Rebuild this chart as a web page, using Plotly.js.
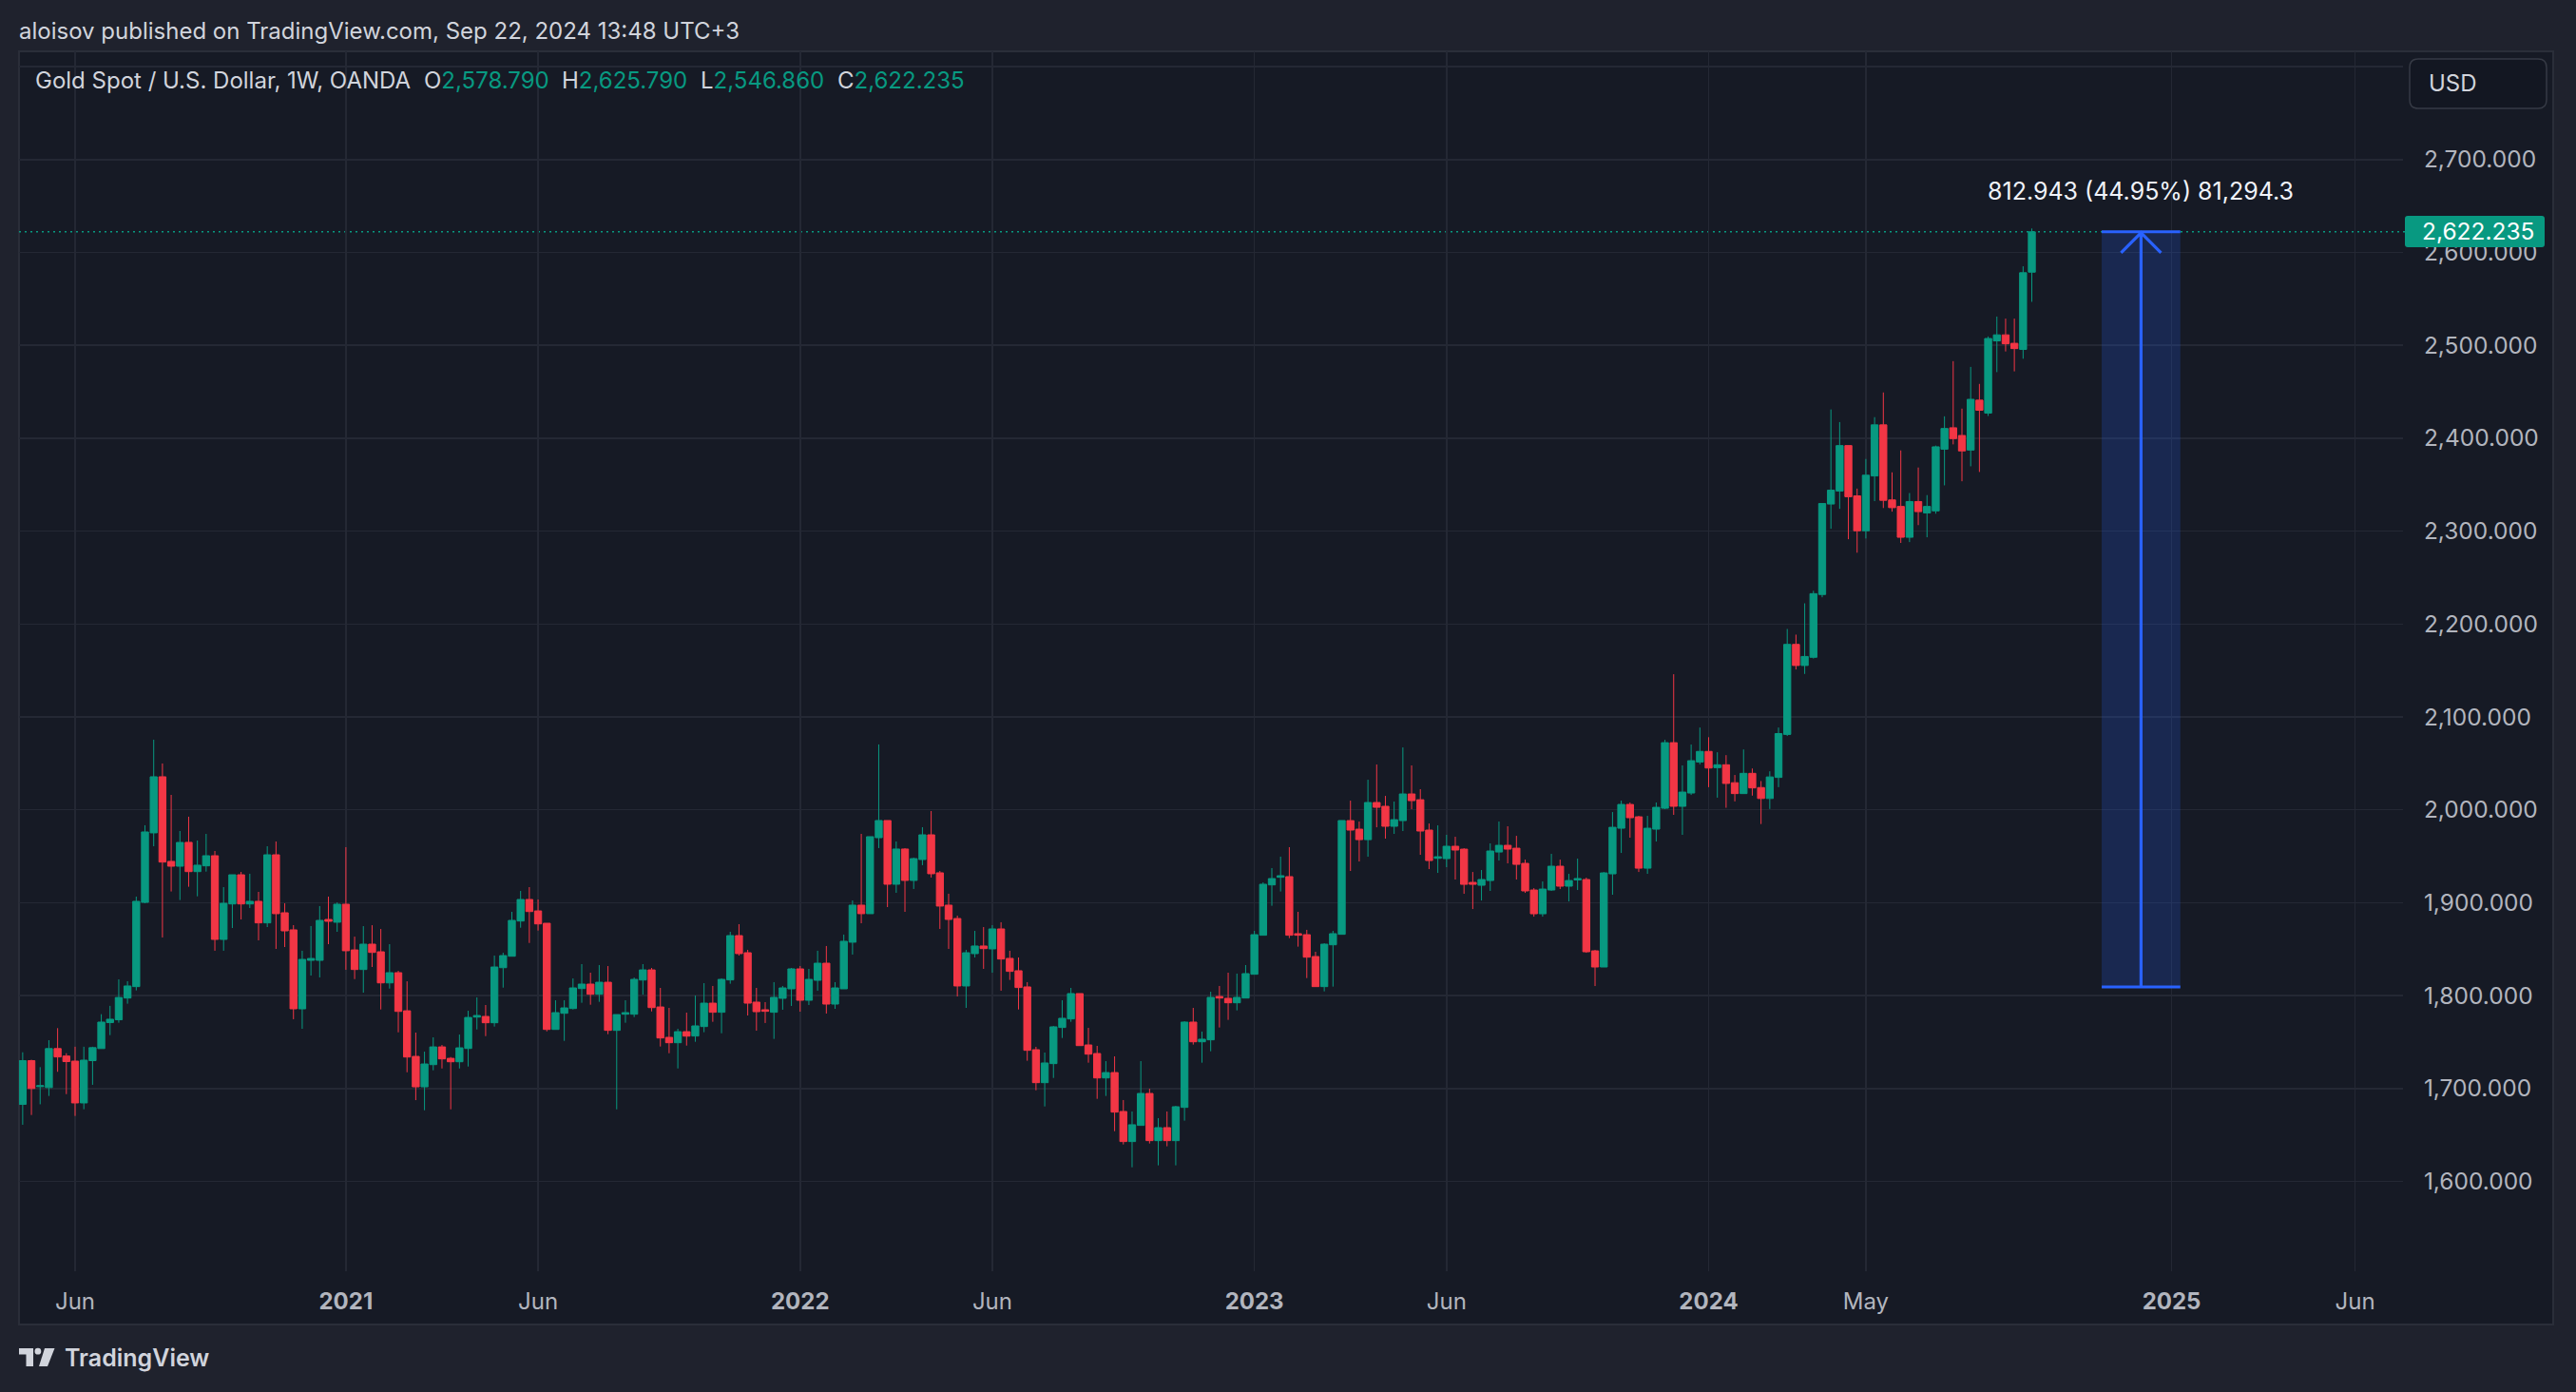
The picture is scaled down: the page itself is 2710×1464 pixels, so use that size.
<!DOCTYPE html>
<html>
<head>
<meta charset="utf-8">
<script src="https://cdn.plot.ly/plotly-3.0.1.min.js"></script>
<style>
html,body{margin:0;padding:0;background:#1F222D;}
#chart{width:2710px;height:1464px;}
</style>
</head>
<body>
<div id="chart"></div>
<script>
// ---------- DATA (weekly OANDA XAUUSD, first bar = week of 2020-04-20) ----------
const firstWeek = '2020-04-20';
const opens = [
1683,1730,1702,1701,1743,1735,1729.5,1684.5,1730,1743,
1771,1774,1797.4,1809.7,1900.4,1975.2,2035.6,1944.5,1939.3,1965,
1933.5,1939.7,1950.6,1860.5,1898.7,1930.1,1898.7,1901.5,1878.3,1951.6,
1889.2,1870.8,1785.8,1838,1838,1882,1879,1898.4,1849.2,1828.1,
1855.4,1847.2,1813.7,1824.7,1783.7,1734.6,1701.8,1725.7,1744.8,1732.5,
1728.8,1743.1,1776.9,1777.6,1770.8,1830.1,1842.4,1880.3,1903.5,1891.2,
1877.9,1763.6,1781,1786.1,1807.6,1812.4,1801.5,1814.4,1762.6,1780,
1780,1816.8,1827.7,1787.8,1755.1,1749.3,1761.2,1756.5,1766.7,1791.9,
1782.1,1816.9,1864.6,1846.2,1793,1784.8,1782.1,1797.1,1807.3,1828.8,
1795,1816.5,1834.9,1790.9,1807.3,1857.5,1897.4,1888.2,1970,1988.5,
1919.9,1957.8,1924,1946.5,1973.1,1932.2,1897.4,1883,1810.4,1845.2,
1853.4,1850.3,1871.8,1840.1,1826.8,1809.4,1741.8,1706.3,1726.8,1765.7,
1774.9,1802.2,1746.9,1737.7,1711.4,1717.2,1675.3,1642.9,1660.3,1694.7,
1643.9,1657.9,1643.9,1679.7,1771.5,1750.3,1752.4,1799.1,1797.1,1792.3,
1797.4,1823,1865,1919.2,1927.4,1928.1,1866.7,1865.6,1842.1,1809.7,
1854.7,1866,1988.4,1979.2,1967.9,2007.9,2003.8,1982.3,1988.4,2017.1,
2010.9,1978.2,1947.8,1947.5,1960.8,1957.7,1921.9,1918.8,1923.9,1954.6,
1961.8,1958.7,1942.4,1913.7,1888.1,1913.7,1939.3,1917.8,1924.6,1925,
1848.2,1830.8,1931.1,1980.2,2005.8,1992.5,1937.2,1979.2,2001.7,2072.3,
2003.8,2018.1,2051.5,2062.9,2045.4,2048.5,2029.2,2017.5,2039.3,2024.0,
2012.2,2034.9,2081.2,2178.1,2155.4,2164.2,2231.8,2329.2,2343.2,2392.1,
2338.0,2300.4,2359.4,2414.4,2333.6,2326.6,2293.4,2331.9,2319.6,2321.8,
2388.2,2411.3,2403.0,2387.3,2441.0,2427.1,2504.8,2511.3,2502.2,2495.6,
2578.79
];
const highs = [
1739,1731,1723,1752,1765,1738,1745,1745,1745,1780,
1789,1817.5,1815.5,1906.6,1983.4,2075.5,2049.9,2016.1,1977.2,1992.6,
1967,1974.1,1955.7,1916.8,1930.1,1933.2,1931.2,1911.7,1960.8,1965.9,
1899.4,1875.9,1848.3,1874.9,1896.4,1906.6,1900.4,1959.8,1863.5,1874.8,
1875.8,1871.7,1855.4,1826.7,1815.4,1760.2,1739.7,1755.1,1746.9,1733.9,
1758.1,1783.7,1798.1,1789.9,1843.1,1846.2,1890.2,1912.7,1916.8,1903.5,
1877.9,1795,1795,1818.5,1833.9,1824.7,1832.9,1831.8,1779.6,1795,
1819.5,1833.9,1829.8,1808.3,1786.8,1764.3,1781.7,1800.1,1813.4,1810.4,
1818.6,1868.7,1876.9,1849.3,1808.3,1793,1814.5,1810.4,1829.8,1831.9,
1828.8,1848.3,1853.4,1814.5,1865.7,1902.5,1974.1,1971.1,2070.4,1988.5,
1965.9,1958.8,1948.6,1981.3,1998.7,1934.2,1909.7,1886.1,1849.3,1869.7,
1873.8,1875.9,1879,1848.3,1841.1,1814.5,1744.9,1738.7,1767.4,1795,
1808.3,1802.2,1765.3,1745.9,1729.5,1734.6,1687.6,1675.3,1729.5,1699.8,
1668.1,1675.3,1681.4,1772.5,1786.8,1761.3,1804.2,1810.4,1824.7,1823.7,
1832.9,1869.7,1921.9,1937.3,1949.6,1959.8,1890.2,1870.8,1847.2,1856.4,
1869.7,1988.5,2009.9,1987.4,2032.4,2048.8,2015,2008.9,2067.2,2047.8,
2022.2,1985.3,1983.3,1973.1,1971,1958.7,1933.1,1935.2,1963.9,1987.4,
1982.3,1972,1946.4,1915.7,1922.9,1952.6,1946.4,1931.1,1947.5,1927,
1849.2,1933.1,1997.6,2009.9,2007.9,1993.5,1993.5,2007.9,2075.4,2146,
2047.8,2070.3,2088.6,2078.2,2062.0,2058.9,2037.5,2065.0,2044.5,2031.0,
2041.5,2088.6,2194.7,2188.6,2222.3,2235.8,2329.7,2431.0,2417.4,2392.1,
2345.8,2377.7,2422.7,2449.3,2363.3,2386.9,2341.0,2368.5,2338.8,2392.1,
2423.6,2483.0,2431.9,2476.8,2458.5,2509.6,2531.0,2528.8,2528.8,2585.1,
2625.79
];
const lows = [
1661,1671.5,1683,1692,1718,1694,1670.5,1677.7,1704,1743,
1757.5,1770.8,1791.3,1805.6,1899.4,1960.8,1862.6,1912.1,1902.9,1917.2,
1906.9,1933.5,1848.3,1848.3,1872.8,1882,1894.3,1859.5,1873.8,1850.3,
1852.3,1774.6,1764.3,1821.6,1819.6,1855.4,1868.7,1827.8,1817.8,1803.2,
1830.8,1785.1,1807.6,1760.5,1717.5,1687.5,1676.6,1719.6,1721.6,1677.6,
1721.6,1723.7,1763.6,1756.4,1766.7,1808.6,1842.4,1873.1,1856.7,1870.0,
1761.5,1763.6,1751.3,1785.1,1792.3,1790.2,1793.3,1758.5,1677.6,1770.8,
1776.9,1801.1,1783.0,1745.2,1738.0,1721.6,1746.2,1750.3,1760.6,1771.8,
1759.5,1812.8,1843.1,1778.6,1762.3,1770.5,1753.4,1784.8,1788.9,1782.7,
1789.9,1805.3,1780.7,1785.8,1807.3,1844.2,1877.9,1888.2,1958.8,1895.3,
1910.7,1890.2,1914.8,1940.4,1927.1,1871.8,1850.3,1799.1,1786.8,1841.1,
1828.8,1824.7,1805.3,1816.9,1785.1,1729.9,1698.1,1680.7,1711.4,1754.4,
1771.8,1746.2,1727.8,1688.9,1692,1654.1,1639.8,1615.2,1660.3,1640.8,
1617.3,1637.8,1617.3,1665.4,1747.3,1727.8,1740.1,1765.7,1773.9,1784.1,
1797.4,1823,1865,1896.7,1912.1,1861.9,1852.7,1818.9,1809.7,1804.6,
1809.7,1866,1934.2,1944.4,1949.5,1981.2,1969,1974.1,1977.2,2000.7,
1951.6,1936.2,1932.1,1938.3,1925,1909.6,1893.2,1902.4,1912.7,1945.4,
1942.4,1925,1910.6,1885.0,1885,1912.7,1914.7,1901.4,1913.7,1846.1,
1810.3,1830.8,1908.6,1953.6,1970.0,1933.1,1931.1,1965.9,2000.7,1994.6,
1973.1,2016,2049,2024.4,2013.1,2002.2,2009.1,2017.5,2015.3,1984.7,
2000.9,2024.4,2079.5,2151.1,2146.3,2162.9,2228.8,2302.6,2324.0,2291.3,
2276.8,2292.1,2332.3,2324.9,2321.0,2287.3,2288.2,2306.5,2293.4,2318.8,
2349.3,2393.4,2353.7,2369.8,2363.7,2424.0,2471.2,2493.4,2472.0,2485.6,
2546.86
];
const closes = [
1730,1700,1703,1743,1734,1729,1684.5,1730.5,1744,1771.5,
1774.6,1798,1810.4,1901.5,1976.2,2035.6,1943.8,1939.3,1964.9,1933.5,
1940.4,1950.6,1860.5,1899.4,1930.1,1898.7,1901.5,1878.3,1951.6,1888.2,
1869.7,1785.8,1839,1840,1881,1880,1898.4,1848.3,1828.1,1855.4,
1846.5,1813.7,1824.7,1783.0,1733.9,1701.8,1726.4,1744.8,1731.9,1728.8,
1743.8,1776.5,1778.6,1770.8,1830.8,1843.1,1881,1903.5,1890.5,1877.2,
1763.6,1781.7,1786.8,1808.3,1812.4,1801.5,1814.4,1762.6,1779.6,1781.7,
1817.5,1827.7,1787.1,1754.4,1749.3,1761.2,1756.4,1767.4,1791.9,1782.1,
1817.5,1864.6,1845.2,1791.9,1782.7,1783.1,1798.1,1808.3,1828.8,1795,
1817.5,1834.9,1790.9,1808.3,1858.5,1897.4,1888.2,1971.1,1988.5,1919.9,
1957.8,1924,1947.5,1973.1,1931.2,1896.4,1882,1810.4,1846.2,1853.4,
1850.6,1871.8,1839.4,1826.1,1808.7,1741.1,1706.3,1727.5,1766.4,1775.6,
1802.2,1746.2,1737,1711.4,1717.2,1674.6,1642.9,1661,1694.7,1643.9,
1657.9,1643.9,1680.4,1771.5,1750.3,1753.1,1798.1,1797.4,1792.3,1798.1,
1823.7,1865.6,1919.9,1926,1929.1,1865,1865,1841.4,1809.7,1855.4,
1866.7,1988.5,1978.2,1967.9,2007.9,2002.7,1982.3,1989.4,2017.1,2009.9,
1977.2,1945.4,1949.5,1960.8,1956.7,1919.8,1919.8,1925,1955.7,1961.8,
1957.7,1941.3,1912.7,1888.1,1914.7,1939.3,1917.8,1923.9,1926,1847.2,
1830.8,1932.1,1981.2,2005.8,1991.5,1937.2,1980.2,2002.7,2072.3,2003.8,
2019.1,2052.9,2062.9,2045.0,2048.5,2028.4,2017.5,2039.3,2023.6,2012.2,
2035.4,2082.1,2178.1,2155.4,2165.1,2232.7,2329.7,2344.1,2392.1,2337.1,
2300.4,2360.2,2414.4,2333.2,2325.3,2293.4,2331.9,2321.0,2326.6,2390.8,
2410.5,2399.6,2386.4,2441.9,2430.1,2507.4,2511.3,2501.7,2496.5,2578.2,
2622.235
];
const xTickDates  = ['2020-06-01','2021-01-04','2021-06-07','2022-01-03','2022-06-06','2023-01-02','2023-06-05','2024-01-01','2024-05-06','2025-01-06','2025-06-02'];
const xTickLabels = ['Jun','2021','Jun','2022','Jun','2023','Jun','2024','May','2025','Jun'];
const yTickValues = [1600,1700,1800,1900,2000,2100,2200,2300,2400,2500,2600,2700,2800];
const yHiddenLabels = [2800];
const symbolTitle = 'Gold Spot / U.S. Dollar, 1W, OANDA';
const publishLine = 'aloisov published on TradingView.com, Sep 22, 2024 13:48 UTC+3';
const currency = 'USD';
// price-range measurement drawing
const measureFromWeek = 238, measureToWeek = 247;
const measureChange = 812.943, measurePercent = 44.95, measureTicks = '81,294.3';

// ---------- STYLE ----------
const UP = '#089981', DOWN = '#F23645';
const CHART_BG = '#161A25', OUTER_BG = '#1F222D', GRID = '#242834', FRAME = '#2A2E39';
const TXT = '#D1D4DC', AXTXT = '#B2B5BE', BLUE = '#2962FF';
const FONT = 'Inter, Roboto, "Open Sans", sans-serif';
const W = 2710, H = 1464;
const ML = 20, MR = 182, MT = 54, MB = 127;
const PW = W - ML - MR, PH = H - MT - MB;

function weekDate(k){
  const t = Date.parse(firstWeek + 'T00:00:00Z') + k * 7 * 86400000;
  return new Date(t).toISOString().slice(0,19).replace('T',' ');
}
function fmt(v, d){
  const s = v.toFixed(d).split('.');
  s[0] = s[0].replace(/\B(?=(\d{3})+(?!\d))/g, ',');
  return s.join('.');
}
const dates = closes.map((_, i) => weekDate(i));
const last = closes.length - 1;
const lastClose = closes[last];

// paper helpers (pixel positions on the page)
const PX = x => (x - ML) / PW;
const PY = y => (MT + PH - y) / PH;
const base = {xref:'paper', yref:'paper', xsizemode:'pixel', ysizemode:'pixel', xanchor:0, yanchor:1};
const P = (x, y) => (x - ML) + ',' + (MT - y);
function pxRect(x0, y0, x1, y1, o){
  return Object.assign({}, base, {type:'rect', x0:x0-ML, x1:x1-ML, y0:MT-y0, y1:MT-y1}, o);
}
function pxPath(d, o){ return Object.assign({}, base, {type:'path', path:d}, o); }
function roundRect(x0, y0, x1, y1, r){
  return 'M' + P(x0+r,y0) + ' L' + P(x1-r,y0) + ' Q' + P(x1,y0) + ' ' + P(x1,y0+r) +
         ' L' + P(x1,y1-r) + ' Q' + P(x1,y1) + ' ' + P(x1-r,y1) +
         ' L' + P(x0+r,y1) + ' Q' + P(x0,y1) + ' ' + P(x0,y1-r) +
         ' L' + P(x0,y0+r) + ' Q' + P(x0,y0) + ' ' + P(x0+r,y0) + ' Z';
}

const trace = {
  type:'candlestick', x:dates, open:opens, high:highs, low:lows, close:closes,
  increasing:{line:{color:UP, width:1}, fillcolor:UP},
  decreasing:{line:{color:DOWN, width:1}, fillcolor:DOWN},
  whiskerwidth:0, hoverinfo:'skip', showlegend:false
};

const mTop = lastClose, mBot = lastClose - measureChange;
const mX0 = weekDate(measureFromWeek), mX1 = weekDate(measureToWeek);
const mMid = weekDate((measureFromWeek + measureToWeek) / 2);

const shapes = [
  // chart frame
  pxRect(20, 54, 2686, 1393, {layer:'below', fillcolor:CHART_BG, line:{color:FRAME, width:2}}),
  // last price dotted line
  {type:'line', xref:'paper', yref:'y', x0:0, x1:(2530-ML)/PW, y0:lastClose, y1:lastClose,
   line:{color:UP, width:1.5, dash:'2px,4px'}, layer:'below'},
  // measurement box
  {type:'rect', xref:'x', yref:'y', x0:mX0, x1:mX1, y0:mBot, y1:mTop,
   fillcolor:'rgba(41,98,255,0.2)', line:{width:0}, layer:'above'},
  {type:'line', xref:'x', yref:'y', x0:mX0, x1:mX1, y0:mTop, y1:mTop, line:{color:BLUE, width:3}},
  {type:'line', xref:'x', yref:'y', x0:mX0, x1:mX1, y0:mBot, y1:mBot, line:{color:BLUE, width:3}},
  {type:'line', xref:'x', yref:'y', x0:mMid, x1:mMid, y0:mBot, y1:mTop, line:{color:BLUE, width:3.2}},
  {type:'path', xref:'x', yref:'y', xsizemode:'pixel', ysizemode:'pixel', xanchor:mMid, yanchor:mTop,
   path:'M-21,-22 L0,-1 L21,-22', line:{color:BLUE, width:3.2}},
  // last price label box
  pxPath(roundRect(2530, 227, 2677, 260, 3), {fillcolor:UP, line:{width:0}}),
  // currency button
  pxPath(roundRect(2535, 62, 2679, 114, 9), {fillcolor:'#131722', line:{color:'#363A45', width:1.5}}),
  // TradingView logo mark
  pxRect(20, 1418, 35, 1424.5, {fillcolor:TXT, line:{width:0}}),
  pxRect(27.5, 1418, 35, 1437, {fillcolor:TXT, line:{width:0}}),
  Object.assign({}, base, {type:'circle', x0:36.5-ML, x1:43.3-ML, y0:MT-1417.8, y1:MT-1424.6, fillcolor:TXT, line:{width:0}}),
  pxPath('M' + P(47,1418) + ' L' + P(57.5,1418) + ' L' + P(50,1437) + ' L' + P(41,1437) + ' Z', {fillcolor:TXT, line:{width:0}})
];

function ann(x, y, text, size, color, anchor, extra){
  return Object.assign({xref:'paper', yref:'paper', x:PX(x), y:PY(y), text:text, showarrow:false,
    xanchor:anchor || 'left', yanchor:'middle', font:{family:FONT, size:size, color:color}}, extra || {});
}
const g = v => '<span style="color:' + UP + '">' + fmt(v, 3) + '</span>';
const annotations = [
  ann(18, 32, publishLine, 24, TXT),
  ann(35, 85, symbolTitle, 24, TXT),
  ann(444, 85, 'O' + g(opens[last]), 24, TXT),
  ann(589, 85, 'H' + g(highs[last]), 24, TXT),
  ann(735, 85, 'L' + g(lows[last]), 24, TXT),
  ann(879, 85, 'C' + g(lastClose), 24, TXT),
  {xref:'x', yref:'y', x:mMid, y:mTop, yshift:43, text: fmt(measureChange,3) + ' (' + measurePercent.toFixed(2) + '%) ' + measureTicks,
   showarrow:false, xanchor:'center', yanchor:'middle', font:{family:FONT, size:25, color:'#F0F3FA'}},
  ann(2546, 243.5, fmt(lastClose, 3), 24.5, '#FFFFFF'),
  ann(2553, 88, currency, 24, TXT),
  ann(66, 1428, 'TradingView', 25, TXT, 'left', {font:{family:FONT, size:25, color:TXT, weight:600}})
];

const layout = {
  width:W, height:H,
  margin:{l:ML, r:MR, t:MT, b:MB, pad:0},
  paper_bgcolor:OUTER_BG, plot_bgcolor:CHART_BG,
  boxgap:0.2, boxgroupgap:0,
  showlegend:false, dragmode:false, hovermode:false,
  xaxis:{
    type:'date', range:[weekDate(-0.42), weekDate(272.49)],
    rangeslider:{visible:false},
    tickmode:'array', tickvals:xTickDates,
    ticktext:xTickLabels.map(t => /^\d{4}$/.test(t) ? '<b>' + t + '</b>' : t),
    showgrid:true, gridcolor:GRID, gridwidth:1.5, zeroline:false, showline:false,
    ticks:'outside', ticklen:10, tickcolor:'rgba(0,0,0,0)',
    tickfont:{family:FONT, size:24, color:AXTXT}, fixedrange:true
  },
  yaxis:{
    side:'right', range:[1503.3, 2816.5],
    tickmode:'array', tickvals:yTickValues,
    ticktext:yTickValues.map(v => yHiddenLabels.includes(v) ? '' : fmt(v, 3)),
    showgrid:true, gridcolor:GRID, gridwidth:1.5, zeroline:false, showline:false,
    ticks:'outside', ticklen:16, tickcolor:'rgba(0,0,0,0)',
    tickfont:{family:FONT, size:24.5, color:AXTXT}, fixedrange:true
  },
  shapes:shapes,
  annotations:annotations
};

Plotly.newPlot('chart', [trace], layout, {displayModeBar:false, staticPlot:true});
</script>
</body>
</html>
